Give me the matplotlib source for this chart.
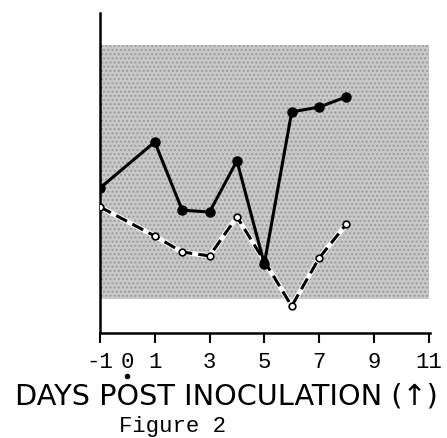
import matplotlib
matplotlib.use('Agg')
import matplotlib.pyplot as plt

# ── Data (arbitrary y units) ───────────────────────────────────────────────
days = [-1, 1, 2, 3, 4, 5, 6, 7, 8]
solid_vals = [4.53, 5.97, 3.84, 3.78, 5.38, 2.16, 6.91, 7.06, 7.38]
dashed_vals = [3.94, 3.03, 2.53, 2.41, 3.63, 2.25, 0.84, 2.34, 3.41]
band_x = [-1, 11]
band_low, band_high = 1.06, 9.0
tick_pos = [-1, 0, 1, 3, 5, 7, 9, 11]
tick_lbl = ['-1', '0', '1', '3', '5', '7', '9', '11']

mono = 'Liberation Mono'

fig = plt.figure(figsize=(4.47, 4.39), dpi=100)
fig.patch.set_facecolor('white')
ax = fig.add_axes([100 / 447, 105 / 439, 330 / 447, 320 / 439])
ax.set_xlim(-1, 11.05)
ax.set_ylim(0, 10)

# stippled normal range
ax.fill_between(band_x, band_low, band_high, facecolor='#c9c9c9',
                edgecolor='#9c9c9c', hatch='....', linewidth=0, zorder=1)

# dashed series with white backing
ax.plot(days, dashed_vals, color='white', lw=3.6, zorder=2)
ax.plot(days, dashed_vals, color='black', lw=2.2, dashes=(4, 2), zorder=3,
        marker='o', ms=4.8, mfc='white', mec='black', mew=1.2)

# solid series
ax.plot(days, solid_vals, color='black', lw=2.2, zorder=4,
        marker='o', ms=6.5, mfc='black', mec='black')

for s in ['top', 'right']:
    ax.spines[s].set_visible(False)
ax.spines['left'].set_linewidth(1.8)
ax.spines['bottom'].set_linewidth(1.8)
ax.set_yticks([])
ax.set_xticks([-1, 1, 3, 5, 7, 9, 11])
ax.set_xticklabels([])
ax.tick_params(axis='x', direction='out', length=7, width=1.5)
for p, l in zip(tick_pos, tick_lbl):
    ax.text(p, -0.55, l, ha='center', va='top', fontsize=16,
            family=mono, transform=ax.transData, clip_on=False)

# inoculation marker under the 0
ax.plot([0], [-1.35], marker='o', ms=3, color='black', clip_on=False)

fig.text(0.506, 0.0797, 'DAYS POST INOCULATION (\u2191)', ha='center',
         va='baseline', fontsize=20.7, family='DejaVu Sans')
fig.text(0.385, 0.016, 'Figure 2', ha='center', va='baseline', fontsize=16,
         family=mono)

plt.savefig('out.png', dpi=100, facecolor='white')
